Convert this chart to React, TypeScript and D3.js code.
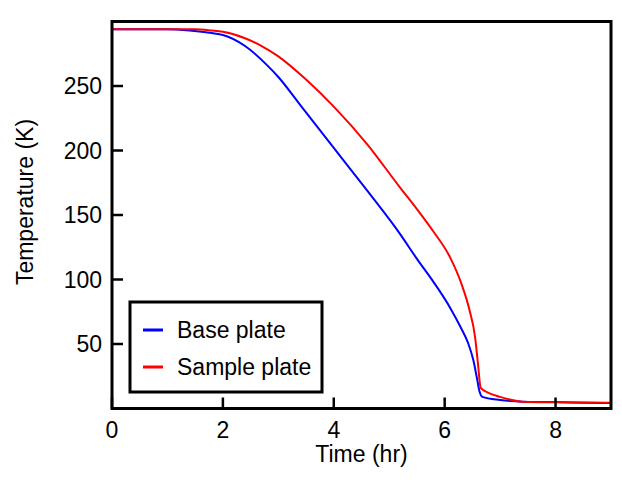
import React from "react";
import * as d3 from "d3";

const baseTime = [0, 0.5, 1.0, 1.4, 1.8, 2.0, 2.4, 2.8, 3.0, 3.4, 4.0, 4.6, 5.2, 5.5, 5.8, 6.1, 6.3, 6.42, 6.52, 6.58, 6.63, 6.68, 7.0, 7.4, 8.0, 8.5, 9.0];
const baseTemp = [294, 294, 294, 293, 291, 289.5, 281, 266, 257, 235, 202, 169, 135, 116, 98, 78, 62, 51, 37, 24, 13, 9, 6.6, 5.3, 5, 4.5, 4.3];
const sampleTime = [0, 1.0, 1.5, 1.8, 2.0, 2.4, 2.7, 3.0, 3.5, 4.0, 4.6, 5.2, 5.5, 5.8, 6.1, 6.3, 6.45, 6.55, 6.6, 6.65, 6.8, 7.0, 7.4, 8.0, 9.0];
const sampleTemp = [294, 294, 294, 293, 292, 287, 281, 273, 255, 234, 205, 171, 154.5, 137, 117, 97, 76, 55, 35, 16, 12, 9, 5.3, 4.8, 4.5];
const xTicks = [0, 2, 4, 6, 8];
const yTicks = [50, 100, 150, 200, 250];
const seriesNames = ["Base plate", "Sample plate"];
const seriesColors = ["#0000ff", "#ff0000"];

export default function App() {
  const W = 622, H = 484;
  const x = d3.scaleLinear().domain([0, 9]).range([112, 611]);
  const y = d3.scaleLinear().domain([0, 300]).range([408.5, 21.5]);
  const line = d3.line<[number, number]>().x(d => x(d[0])).y(d => y(d[1])).curve(d3.curveMonotoneX);
  const basePts = baseTime.map((t, i) => [t, baseTemp[i]] as [number, number]);
  const samplePts = sampleTime.map((t, i) => [t, sampleTemp[i]] as [number, number]);
  const font = "'Liberation Sans', Arial, Helvetica, sans-serif";
  const fs = 23;
  return (
    <svg width={W} height={H} style={{ position: "absolute", left: 0, top: 0 }} fontFamily={font}>
      <rect width={W} height={H} fill="#fff" />
      <defs>
        <clipPath id="clip">
          <rect x={x(0)} y={y(300)} width={x(9) - x(0)} height={y(0) - y(300)} />
        </clipPath>
      </defs>
      <g clipPath="url(#clip)">
        <path d={line(basePts) || ""} fill="none" stroke={seriesColors[0]} strokeWidth={2} />
        <path d={line(samplePts) || ""} fill="none" stroke={seriesColors[1]} strokeWidth={2} />
      </g>
      {xTicks.map(t => (
        <g key={"x" + t}>
          <line x1={x(t)} x2={x(t)} y1={y(0)} y2={y(0) - 11} stroke="#000" strokeWidth={2.5} />
          <text x={x(t)} y={438} textAnchor="middle" fontSize={fs}>{t}</text>
        </g>
      ))}
      {yTicks.map(t => (
        <g key={"y" + t}>
          <line x1={x(0)} x2={x(0) + 11} y1={y(t)} y2={y(t)} stroke="#000" strokeWidth={2.5} />
          <text x={102} y={y(t)} dy="0.36em" textAnchor="end" fontSize={fs}>{t}</text>
        </g>
      ))}
      <rect x={x(0)} y={y(300)} width={x(9) - x(0)} height={y(0) - y(300)} fill="none" stroke="#000" strokeWidth={3} />
      <text x={(x(0) + x(9)) / 2} y={462} textAnchor="middle" fontSize={fs}>Time (hr)</text>
      <text transform={`translate(33,202) rotate(-90)`} textAnchor="middle" fontSize={fs}>Temperature (K)</text>
      <rect x={130} y={302} width={192} height={90} fill="#fff" stroke="#000" strokeWidth={3} />
      {seriesNames.map((n, i) => (
        <g key={n}>
          <line x1={143} x2={163} y1={330 + i * 37} y2={330 + i * 37} stroke={seriesColors[i]} strokeWidth={3} />
          <text x={177} y={338 + i * 37} fontSize={fs}>{n}</text>
        </g>
      ))}
    </svg>
  );
}
